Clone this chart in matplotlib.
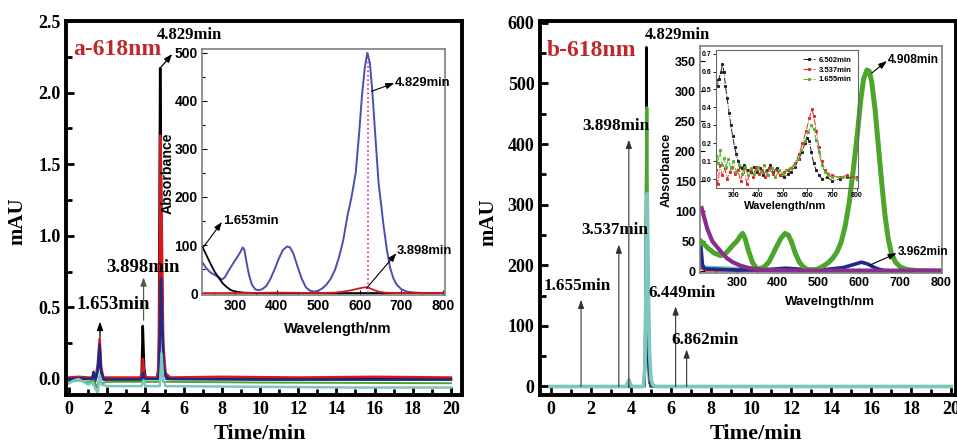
import matplotlib
matplotlib.use("Agg")
import matplotlib.pyplot as plt
from matplotlib.ticker import MultipleLocator

# ---------------- data ----------------
# Panel a chromatograms (time/min, mAU)
chrom_a_black = [(0.0, 0.0), (0.4, 0.01), (0.8, 0.0), (1.2, 0.0), (1.3, 0.03), (1.4, 0.0), (1.52, 0.08),
                 (1.6, 0.2), (1.68, 0.04), (1.8, 0.0), (3.7, 0.0), (3.8, 0.03), (3.86, 0.37), (3.93, 0.08),
                 (4.0, 0.01), (4.6, 0.0), (4.7, 0.08), (4.77, 2.17), (4.84, 0.9), (4.93, 0.15), (5.05, 0.02),
                 (5.3, 0.0), (20.0, 0.0)]
chrom_a_red = [(0.0, 0.01), (0.5, 0.015), (1.0, 0.01), (1.25, 0.01), (1.3, 0.04), (1.38, 0.0), (1.5, 0.1),
               (1.6, 0.28), (1.68, 0.08), (1.8, 0.01), (3.75, 0.01), (3.82, 0.05), (3.87, 0.14), (3.93, 0.04),
               (4.0, 0.01), (4.65, 0.01), (4.72, 0.3), (4.78, 1.70), (4.85, 1.1), (4.93, 0.25), (5.05, 0.04),
               (5.3, 0.01), (8.0, 0.015), (12.0, 0.01), (16.0, 0.015), (20.0, 0.01)]
chrom_a_blue = [(0.0, 0.0), (0.5, 0.005), (1.0, 0.0), (1.2, 0.0), (1.28, 0.05), (1.36, -0.02), (1.5, 0.06),
                (1.6, 0.24), (1.68, 0.05), (1.8, -0.005), (3.8, -0.005), (3.87, 0.04), (3.95, 0.0), (4.7, 0.0),
                (4.75, 0.25), (4.81, 0.70), (4.87, 0.4), (4.95, 0.08), (5.1, 0.0), (10.0, -0.005), (20.0, -0.005)]
chrom_a_green = [(0.0, -0.02), (0.5, -0.01), (1.0, -0.025), (1.3, -0.01), (1.45, -0.06), (1.58, 0.0),
                 (1.7, -0.03), (2.0, -0.02), (3.85, -0.02), (3.9, -0.005), (3.97, -0.02), (4.75, -0.02),
                 (4.83, 0.1), (4.92, -0.02), (10.0, -0.025), (20.0, -0.03)]
chrom_a_teal = [(0.0, -0.03), (0.25, -0.01), (0.5, 0.0), (0.75, -0.02), (1.0, -0.04), (1.2, -0.025),
                (1.35, -0.06), (1.5, -0.1), (1.6, 0.03), (1.7, -0.04), (2.0, -0.05), (3.8, -0.05), (3.9, -0.01),
                (4.0, -0.05), (4.75, -0.05), (4.84, 0.18), (4.93, 0.0), (5.05, -0.05), (10.0, -0.055),
                (15.0, -0.06), (20.0, -0.06)]

# Panel b chromatograms
chrom_b_black = [(0, 0), (4.65, 0), (4.72, 60), (4.77, 560), (4.82, 150), (4.9, 10), (5.0, 0), (20, 0)]
chrom_b_red = [(0, 0), (4.6, 0), (4.68, 40), (4.75, 130), (4.8, 60), (4.9, 5), (5.0, 0), (20, 0)]
chrom_b_green = [(0, 0), (4.66, 0), (4.73, 120), (4.79, 460), (4.84, 150), (4.92, 10), (5.0, 0), (20, 0)]
chrom_b_blue = [(0, 0), (4.7, 0), (4.78, 90), (4.84, 40), (4.95, 0), (20, 0)]
chrom_b_teal = [(0, 0), (3.75, 0), (3.83, 6), (3.9, 11), (3.97, 3), (4.05, 0), (4.62, 0), (4.7, 40),
                (4.76, 200), (4.81, 318), (4.86, 180), (4.92, 60), (5.0, 12), (5.1, 2), (5.3, 0), (20, 0)]

# Inset a spectra (wavelength/nm, absorbance)
spec_a_4829 = [(220, 65), (230, 52), (240, 43), (250, 38), (260, 33), (268, 28), (275, 33), (285, 48),
               (295, 62), (305, 75), (312, 85), (318, 95), (322, 90), (327, 65), (333, 38), (340, 18),
               (348, 8), (355, 6), (365, 8), (375, 15), (385, 30), (395, 50), (405, 72), (415, 90),
               (425, 97), (432, 95), (440, 82), (450, 55), (460, 30), (470, 12), (480, 5), (490, 3),
               (500, 5), (510, 10), (520, 18), (530, 30), (540, 48), (550, 75), (560, 110), (570, 160),
               (580, 200), (590, 250), (598, 330), (605, 410), (612, 470), (618, 500), (624, 480),
               (630, 420), (637, 330), (645, 230), (657, 141), (665, 90), (673, 52), (681, 30), (689, 17),
               (700, 8), (713, 3), (730, 1), (760, 0), (800, 0)]
spec_a_1653 = [(220, 98), (230, 80), (240, 62), (250, 45), (260, 32), (270, 20), (280, 12), (290, 6),
               (300, 3), (320, 1), (350, 0), (800, 0)]
spec_a_3898 = [(220, 0), (300, 0), (400, 1), (500, 0), (540, 1), (560, 3), (580, 6), (600, 10), (612, 12),
               (622, 11), (632, 7), (645, 3), (660, 1), (680, 0), (800, 0)]
marker_wl_a = 620

# Inset b spectra
spec_b_4908 = [(212, 50), (220, 45), (230, 38), (245, 30), (260, 26), (270, 28), (280, 35), (290, 43),
               (300, 50), (308, 58), (314, 63), (320, 55), (328, 35), (338, 15), (348, 5), (358, 4),
               (368, 8), (378, 15), (388, 28), (398, 42), (408, 55), (418, 63), (426, 60), (433, 50),
               (443, 30), (453, 15), (463, 7), (473, 3), (485, 2), (495, 3), (505, 6), (515, 10), (525, 15),
               (535, 22), (545, 32), (555, 48), (565, 75), (575, 115), (585, 170), (595, 230), (603, 285),
               (610, 320), (618, 335), (624, 333), (630, 315), (638, 270), (646, 210), (654, 150),
               (662, 95), (670, 55), (678, 30), (688, 15), (700, 7), (715, 3), (740, 1), (800, 0)]
spec_b_purple = [(214, 105), (220, 90), (228, 70), (240, 50), (258, 35), (275, 22), (290, 15), (310, 9),
                 (325, 6), (350, 3), (383, 2), (450, 1), (800, 1)]
spec_b_3962 = [(212, 40), (216, 10), (222, 4), (300, 2), (380, 3), (420, 5), (460, 3), (520, 3), (560, 6),
               (585, 11), (605, 15), (620, 12), (640, 5), (660, 1), (700, 0), (800, 0)]
spec_b_teal = [(212, 12), (220, 6), (300, 4), (350, 2), (400, 1), (800, 0)]
spec_b_red = [(212, 5), (225, 1), (800, 0)]

# Nested inset (b) spectra
spec_n_6502 = [(230, 0.55), (236, 0.52), (242, 0.56), (250, 0.60), (256, 0.64), (262, 0.60), (268, 0.52),
               (275, 0.45), (283, 0.37), (290, 0.30), (297, 0.24), (305, 0.18), (312, 0.14), (320, 0.10),
               (328, 0.07), (335, 0.06), (345, 0.08), (355, 0.05), (370, 0.04), (385, 0.07), (395, 0.04),
               (410, 0.06), (420, 0.02), (435, 0.05), (450, 0.08), (460, 0.04), (475, 0.06), (490, 0.02),
               (505, 0.01), (520, 0.03), (535, 0.04), (550, 0.07), (565, 0.11), (578, 0.15), (590, 0.20),
               (600, 0.23), (608, 0.21), (616, 0.15), (625, 0.09), (635, 0.05), (648, 0.02), (660, 0.0),
               (680, 0.01), (700, -0.01), (730, 0.0), (760, 0.01), (800, 0.0)]
spec_n_3537 = [(230, 0.05), (238, -0.03), (246, 0.08), (255, 0.02), (265, 0.06), (275, 0.0), (285, 0.04),
               (295, 0.07), (305, 0.03), (318, 0.05), (330, -0.01), (342, 0.06), (355, -0.03), (368, 0.05),
               (380, 0.01), (393, 0.07), (405, 0.03), (418, 0.05), (430, 0.01), (445, 0.06), (460, 0.03),
               (475, 0.05), (490, 0.02), (505, 0.04), (520, 0.05), (535, 0.06), (550, 0.09), (565, 0.14),
               (580, 0.20), (595, 0.27), (608, 0.34), (618, 0.39), (626, 0.35), (636, 0.27), (646, 0.18),
               (658, 0.10), (670, 0.05), (685, 0.03), (700, 0.02), (730, 0.01), (760, 0.02), (800, 0.01)]
spec_n_1655 = [(230, 0.13), (238, 0.09), (246, 0.16), (254, 0.08), (262, 0.12), (270, 0.07), (280, 0.11),
               (290, 0.06), (300, 0.10), (312, 0.04), (324, 0.08), (336, 0.03), (348, 0.07), (360, 0.02),
               (372, 0.06), (385, 0.03), (398, 0.07), (412, 0.04), (426, 0.08), (440, 0.02), (455, 0.06),
               (470, 0.01), (485, 0.05), (500, 0.03), (515, 0.05), (530, 0.06), (545, 0.08), (560, 0.11),
               (575, 0.16), (590, 0.21), (603, 0.26), (615, 0.30), (625, 0.28), (635, 0.22), (646, 0.15),
               (658, 0.08), (670, 0.04), (685, 0.02), (700, 0.01), (740, 0.01), (780, 0.0), (800, 0.0)]

# Annotation labels
peak_labels_a = ["1.653min", "3.898min", "4.829min"]
peak_labels_b = ["1.655min", "3.537min", "3.898min", "4.829min", "6.449min", "6.862min"]
legend_nested = ["6.502min", "3.537min", "1.655min"]

# ---------------- style ----------------
SERIF = "Liberation Serif"
SANS = "Liberation Sans"
plt.rcParams["font.family"] = [SERIF, "DejaVu Serif"]
plt.rcParams["font.weight"] = "bold"

C_BLACK = "#000000"
C_RED = "#D7191C"
C_BLUE = "#1C2A8A"
C_GREEN = "#4CA62C"
C_TEAL = "#7CC7BE"
C_PURPLE = "#8B2D8E"
C_INSET_BLUE = "#4A4FAE"
C_LABEL_RED = "#C0272D"
C_FRAME = "#7F7F7F"


def xy(pairs):
    return [p[0] for p in pairs], [p[1] for p in pairs]


fig = plt.figure(figsize=(9.57, 4.45), dpi=100)


def style_main(ax):
    for s in ax.spines.values():
        s.set_linewidth(2.8)
    ax.tick_params(which="both", direction="in", top=False, right=False, width=2,
                   labelsize=13, pad=4)
    ax.tick_params(which="major", length=6)
    ax.tick_params(which="minor", length=4)
    ax.set_xlabel("Time/min", fontsize=16, fontweight="bold")
    ax.set_ylabel("mAU", fontsize=15, fontweight="bold")


def style_inset(ax, label_size=10, frame_lw=1.2):
    for s in ax.spines.values():
        s.set_linewidth(frame_lw)
        s.set_color(C_FRAME)
    ax.tick_params(which="both", direction="in", top=False, right=False, width=0.8,
                   labelsize=label_size, labelfontfamily=SANS, pad=3)
    ax.tick_params(which="major", length=3.5)
    ax.tick_params(which="minor", length=2)


arrow_kw = dict(arrowstyle="-|>,head_length=0.5,head_width=0.18", color="black", lw=0.9,
                shrinkA=0, shrinkB=0)

# ---------------- panel a ----------------
ax_a = fig.add_axes([0.0690, 0.1124, 0.4138, 0.8404])
for data, col, lw in [(chrom_a_black, C_BLACK, 1.8), (chrom_a_red, C_RED, 1.8), (chrom_a_blue, C_BLUE, 1.8),
                      (chrom_a_green, C_GREEN, 1.4), (chrom_a_teal, C_TEAL, 1.8)]:
    t, v = xy(data)
    ax_a.plot(t, v, color=col, lw=lw, solid_joinstyle="round")
ax_a.set_xlim(-0.16, 20.58)
ax_a.set_ylim(-0.112, 2.5)
ax_a.xaxis.set_major_locator(MultipleLocator(2))
ax_a.xaxis.set_minor_locator(MultipleLocator(1))
ax_a.yaxis.set_major_locator(MultipleLocator(0.5))
ax_a.yaxis.set_minor_locator(MultipleLocator(0.25))
ax_a.yaxis.set_major_formatter(plt.FormatStrFormatter("%.1f"))
style_main(ax_a)
ax_a.xaxis.set_label_coords(0.49, -0.078)
ax_a.yaxis.set_label_coords(-0.098, 0.465)

ax_a.text(0.21, 2.30, "a-618nm", color=C_LABEL_RED, fontsize=17, fontweight="bold", ha="left", va="center")
ax_a.text(6.3, 2.40, peak_labels_a[2], fontsize=12, ha="center", va="center")
ax_a.annotate("", xy=(5.4, 2.27), xytext=(4.77, 2.17), arrowprops=arrow_kw)
ax_a.text(2.33, 0.52, peak_labels_a[0], fontsize=13.5, ha="center", va="center")
ax_a.annotate("", xy=(1.62, 0.40), xytext=(1.62, 0.29), arrowprops=arrow_kw)
ax_a.text(3.85, 0.78, peak_labels_a[1], fontsize=13.5, ha="center", va="center")
ax_a.annotate("", xy=(3.9, 0.71), xytext=(3.9, 0.41), arrowprops=dict(arrow_kw, color="#555555"))

# inset a
ia = fig.add_axes([0.2111, 0.3371, 0.2539, 0.5528])
ia.set_facecolor("white")
w, a = xy(spec_a_4829)
ia.plot(w, a, color=C_INSET_BLUE, lw=1.4)
w, a = xy(spec_a_1653)
ia.plot(w, a, color=C_BLACK, lw=1.3)
w, a = xy(spec_a_3898)
ia.plot(w, a, color=C_RED, lw=1.3)
ia.plot([marker_wl_a, marker_wl_a], [0, 500], color="#E0209A", lw=1.2, ls=":")
ia.set_xlim(220, 805)
ia.set_ylim(-4, 508)
ia.xaxis.set_major_locator(MultipleLocator(100))
ia.xaxis.set_minor_locator(MultipleLocator(50))
ia.yaxis.set_major_locator(MultipleLocator(100))
ia.yaxis.set_minor_locator(MultipleLocator(50))
style_inset(ia, label_size=10)
ia.set_xlabel("Wavelength/nm", fontsize=10.5, fontfamily=SANS, fontweight="bold")
ia.set_ylabel("Absorbance", fontsize=10.2, fontfamily=SANS, fontweight="bold")
ia.xaxis.set_label_coords(0.56, -0.11)
ia.yaxis.set_label_coords(-0.111, 0.496)
ia.text(684, 437, "4.829min", fontsize=9.4, fontfamily=SANS, ha="left", va="center")
ia.annotate("", xy=(683, 437), xytext=(628, 420), arrowprops=dict(arrow_kw, lw=0.8))
ia.text(270, 150, "1.653min", fontsize=9.4, fontfamily=SANS, ha="left", va="center")
ia.annotate("", xy=(268, 148), xytext=(222, 94), arrowprops=dict(arrow_kw, lw=0.8))
ia.text(689, 87, "3.898min", fontsize=9.4, fontfamily=SANS, ha="left", va="center")
ia.annotate("", xy=(688, 83), xytext=(616, 10), arrowprops=dict(arrow_kw, lw=0.8))

# ---------------- panel b ----------------
ax_b = fig.add_axes([0.5643, 0.1124, 0.4347, 0.8404])
for data, col, lw in [(chrom_b_black, C_BLACK, 1.6), (chrom_b_red, C_RED, 1.0), (chrom_b_green, C_GREEN, 2.2),
                      (chrom_b_blue, C_BLUE, 1.0), (chrom_b_teal, C_TEAL, 2.6)]:
    t, v = xy(data)
    ax_b.plot(t, v, color=col, lw=lw, solid_joinstyle="round")
ax_b.set_xlim(-0.55, 20.25)
ax_b.set_ylim(-14, 603)
ax_b.xaxis.set_major_locator(MultipleLocator(2))
ax_b.xaxis.set_minor_locator(MultipleLocator(1))
ax_b.yaxis.set_major_locator(MultipleLocator(100))
ax_b.yaxis.set_minor_locator(MultipleLocator(50))
style_main(ax_b)
ax_b.xaxis.set_label_coords(0.52, -0.078)
ax_b.yaxis.set_label_coords(-0.101, 0.463)

ax_b.text(-0.2, 555, "b-618nm", color=C_LABEL_RED, fontsize=17, fontweight="bold", ha="left", va="center")
ax_b.text(6.33, 580, peak_labels_b[3], fontsize=12, ha="center", va="center")
b_arrows = [(1.5, 143, 1.3, 165, peak_labels_b[0]),
            (3.39, 234, 3.17, 259, peak_labels_b[1]),
            (3.89, 407, 3.24, 430, peak_labels_b[2]),
            (6.23, 132, 6.56, 155, peak_labels_b[4]),
            (6.78, 61, 7.7, 77, peak_labels_b[5])]
for tx, top, lx, ly, lab in b_arrows:
    ax_b.annotate("", xy=(tx, top), xytext=(tx, 0), arrowprops=dict(arrow_kw, color="#333333", lw=0.8))
    ax_b.text(lx, ly, lab, fontsize=12.3, ha="center", va="center")

# inset b
ib = fig.add_axes([0.7315, 0.3865, 0.2529, 0.5101])
ib.set_facecolor("white")
w, a = xy(spec_b_teal)
ib.plot(w, a, color=C_TEAL, lw=3)
w, a = xy(spec_b_red)
ib.plot(w, a, color=C_RED, lw=1.5)
w, a = xy(spec_b_3962)
ib.plot(w, a, color=C_BLUE, lw=2.6)
w, a = xy(spec_b_4908)
ib.plot(w, a, color=C_GREEN, lw=3.6)
w, a = xy(spec_b_purple)
ib.plot(w, a, color=C_PURPLE, lw=3)
ib.set_xlim(210, 802)
ib.set_ylim(-3, 375)
ib.xaxis.set_major_locator(MultipleLocator(100))
ib.xaxis.set_minor_locator(MultipleLocator(50))
ib.yaxis.set_major_locator(MultipleLocator(50))
style_inset(ib, label_size=9)
ib.set_xlabel("Wavelngth/nm", fontsize=9.5, fontfamily=SANS, fontweight="bold")
ib.set_ylabel("Absorbance", fontsize=9.3, fontfamily=SANS, fontweight="bold")
ib.xaxis.set_label_coords(0.537, -0.101)
ib.yaxis.set_label_coords(-0.112, 0.454)
ib.text(669, 352, "4.908min", fontsize=8.6, fontfamily=SANS, ha="left", va="center")
ib.annotate("", xy=(667, 350), xytext=(630, 330), arrowprops=dict(arrow_kw, lw=0.8))
ib.text(693, 32, "3.962min", fontsize=8.6, fontfamily=SANS, ha="left", va="center")
ib.annotate("", xy=(691, 30), xytext=(625, 10), arrowprops=dict(arrow_kw, lw=0.8))

# nested inset
nb = fig.add_axes([0.7482, 0.5775, 0.1484, 0.3101])
nb.patch.set_alpha(0)
for data, col, lab in [(spec_n_6502, "#222222", legend_nested[0]), (spec_n_3537, "#E02A2A", legend_nested[1]),
                       (spec_n_1655, "#5AAE32", legend_nested[2])]:
    w, a = xy(data)
    nb.plot(w, a, color=col, lw=0.7, ls="-.", marker="s", ms=1.2, label=lab)
nb.set_xlim(230, 805)
nb.set_ylim(-0.05, 0.72)
nb.xaxis.set_major_locator(MultipleLocator(100))
nb.yaxis.set_major_locator(MultipleLocator(0.1))
nb.yaxis.set_major_formatter(plt.FormatStrFormatter("%.1f"))
for s in nb.spines.values():
    s.set_linewidth(0.8)
    s.set_color("#666666")
nb.tick_params(which="both", direction="out", top=False, right=False, width=0.6, length=2,
               labelsize=5, labelfontfamily=SANS, pad=1)
nb.set_xlabel("Wavelength/nm", fontsize=8, fontfamily=SANS, fontweight="bold")
nb.xaxis.set_label_coords(0.486, -0.094)
leg = nb.legend(loc="upper right", bbox_to_anchor=(0.99, 0.99), frameon=False, fontsize=5.5,
                handlelength=1.6, handletextpad=0.4, labelspacing=0.3, borderpad=0.2)
for txt in leg.get_texts():
    txt.set_fontfamily(SANS)

fig.savefig("out.png", dpi=100)
